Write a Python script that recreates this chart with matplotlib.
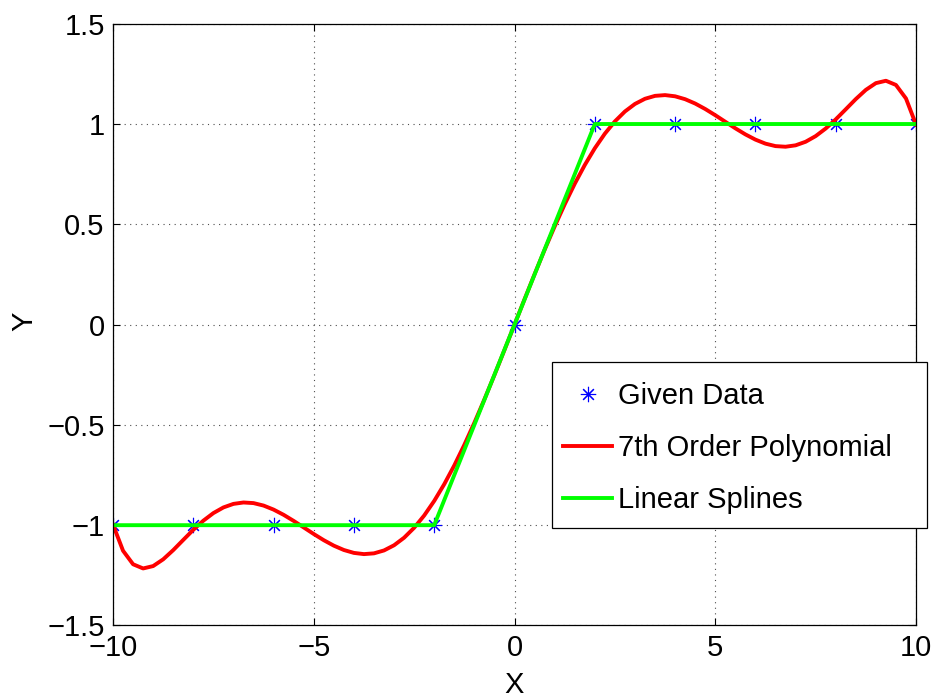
import numpy as np
import matplotlib
matplotlib.use('Agg')
import matplotlib.pyplot as plt
from matplotlib.patches import Rectangle

plt.rcParams['font.family'] = ['Liberation Sans', 'DejaVu Sans']

# given data points
x_data = [-10, -8, -6, -4, -2, 0, 2, 4, 6, 8, 10]
y_data = [-1, -1, -1, -1, -1, 0, 1, 1, 1, 1, 1]

# 7th order polynomial, sampled every 0.25 from -10 to 10
x_poly = np.linspace(-10, 10, 81)
y_poly = [-0.9971, -1.1274, -1.1948, -1.2157, -1.2038, -1.1702, -1.1243, -1.0734,
          -1.0230, -0.9775, -0.9397, -0.9115, -0.8938, -0.8868, -0.8899, -0.9022,
          -0.9223, -0.9484, -0.9787, -1.0113, -1.0440, -1.0749, -1.1021, -1.1237,
          -1.1382, -1.1442, -1.1404, -1.1259, -1.1001, -1.0625, -1.0130, -0.9518,
          -0.8791, -0.7956, -0.7021, -0.5996, -0.4894, -0.3728, -0.2513, -0.1265,
          0.0,
          0.1265, 0.2513, 0.3728, 0.4894, 0.5996, 0.7021, 0.7956, 0.8791,
          0.9518, 1.0130, 1.0625, 1.1001, 1.1259, 1.1404, 1.1442, 1.1382,
          1.1237, 1.1021, 1.0749, 1.0440, 1.0113, 0.9787, 0.9484, 0.9223,
          0.9022, 0.8899, 0.8868, 0.8938, 0.9115, 0.9397, 0.9775, 1.0230,
          1.0734, 1.1243, 1.1702, 1.2038, 1.2157, 1.1948, 1.1274, 0.9971]

x_ticks = [-10, -5, 0, 5, 10]
y_ticks = [-1.5, -1, -0.5, 0, 0.5, 1, 1.5]
y_ticklabels = ['\u22121.5', '\u22121', '\u22120.5', '0', '0.5', '1', '1.5']
x_ticklabels = ['\u221210', '\u22125', '0', '5', '10']

fig = plt.figure(figsize=(9.37, 6.98), dpi=100)
ax = fig.add_axes([0.1206, 0.1039, 0.857, 0.8621])

ax.plot(x_data, y_data, linestyle='none', marker=(8, 2, 0), markersize=11,
        markeredgewidth=0.8, color='#0000ff', label='Given Data')
ax.plot(x_poly, y_poly, color='#ff0000', lw=2.8, label='7th Order Polynomial')
ax.plot(x_data, y_data, color='#00ff00', lw=2.8, label='Linear Splines')

ax.set_xlim(-10, 10)
ax.set_ylim(-1.5, 1.5)
ax.set_xticks(x_ticks)
ax.set_xticklabels(x_ticklabels)
ax.set_yticks(y_ticks)
ax.set_yticklabels(y_ticklabels)
ax.tick_params(direction='in', length=5, width=0.8, top=True, right=True,
               labelsize=21, pad=6)
for s in ax.spines.values():
    s.set_linewidth(0.9)

ax.grid(True, color='0.3', linestyle=(0, (1, 4)), linewidth=0.8)

ax.set_xlabel('X', fontsize=21)
ax.set_ylabel('Y', fontsize=21)
ax.xaxis.set_label_coords(0.5, -0.075)
ax.yaxis.set_label_coords(-0.093, 0.505)

# legend box is wider than its contents, so draw the frame separately
box = Rectangle((0.5463, 0.1625), 0.4674, 0.2749, transform=ax.transAxes,
                facecolor='white', edgecolor='black', linewidth=0.9,
                clip_on=False, zorder=4)
ax.add_patch(box)
leg = ax.legend(loc='upper left', bbox_to_anchor=(0.5351, 0.4374), borderaxespad=0,
                fontsize=21, numpoints=1, handlelength=1.7, handletextpad=0.2,
                labelspacing=0.82, borderpad=0.69, frameon=False)
leg.set_zorder(5)

fig.savefig('out.png', dpi=100, facecolor='white')
